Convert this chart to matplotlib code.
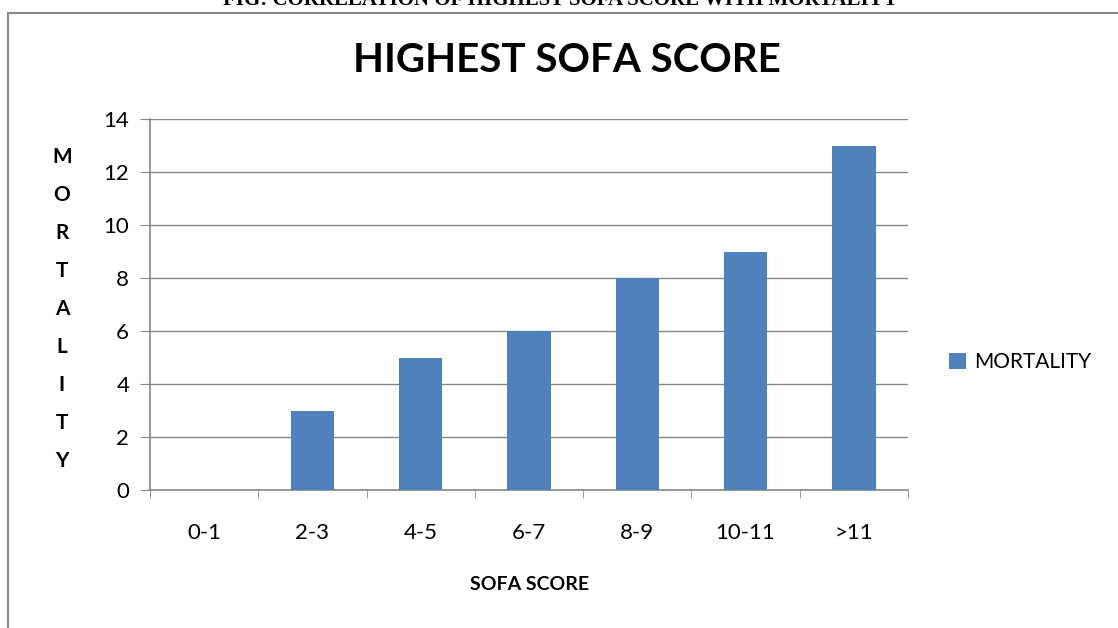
import matplotlib
matplotlib.use("Agg")
import matplotlib.pyplot as plt
from matplotlib.lines import Line2D
import numpy as np

categories = ["0-1", "2-3", "4-5", "6-7", "8-9", "10-11", ">11"]
mortality = [0, 3, 5, 6, 8, 9, 13]
y_ticks = [0, 2, 4, 6, 8, 10, 12, 14]

bar_color = "#4F81BD"
grid_color = "#868686"
font = ["Lato", "DejaVu Sans"]

fig = plt.figure(figsize=(11.18, 6.28), dpi=100)
ax = fig.add_axes([150 / 1118, 1 - 490 / 628, 758 / 1118, 371 / 628])

x = np.arange(len(categories))
ax.bar(x, mortality, width=0.4, color=bar_color, label="MORTALITY", zorder=3)

ax.set_xlim(-0.5, len(categories) - 0.5)
ax.set_ylim(0, 14)
ax.set_yticks(y_ticks)
ax.set_yticklabels([str(v) for v in y_ticks], fontsize=16, family=font)
ax.set_xticks(x)
ax.set_xticklabels(categories, fontsize=16, family=font)
ax.tick_params(axis="x", length=0, pad=24)
ax.set_xticks(np.arange(-0.5, len(categories)), minor=True)
ax.tick_params(axis="x", which="minor", length=6, color=grid_color, direction="out")
ax.tick_params(axis="y", length=7, color=grid_color, direction="out", pad=8)

ax.grid(axis="y", color=grid_color, lw=1, zorder=0)
for side in ["top", "right"]:
    ax.spines[side].set_visible(False)
for side in ["left", "bottom"]:
    ax.spines[side].set_color(grid_color)
    ax.spines[side].set_linewidth(1.2)

fig.text(567 / 1118, 1 - 60 / 628, "HIGHEST SOFA SCORE", ha="center", va="center",
         fontsize=29, fontweight="bold", family=font)
fig.text(530 / 1118, 1 - 585 / 628, "SOFA SCORE", ha="center", va="center",
         fontsize=14, fontweight="bold", family=font)
fig.text(62 / 1118, 1 - 309 / 628, "\n".join("MORTALITY"), ha="center", va="center",
         fontsize=15, fontweight="bold", family=font, linespacing=2.12)

leg = ax.legend(loc="center left", bbox_to_anchor=(1.03, 0.345), frameon=False,
                prop={"family": font, "size": 15}, handlelength=0.8, handleheight=0.8,
                handletextpad=0.4)

# page frame and clipped caption
fig.add_artist(Line2D([8 / 1118, 8 / 1118], [0, 1 - 13 / 628], color="#888888", lw=1.5))
fig.add_artist(Line2D([8 / 1118, 1], [1 - 13 / 628, 1 - 13 / 628], color="#888888", lw=1.5))
fig.text(560 / 1118, 1.0, "FIG: CORRELATION OF HIGHEST SOFA SCORE WITH MORTALITY",
         ha="center", va="center", fontsize=15, fontweight="bold", family="Liberation Serif")

fig.savefig("out.png", dpi=100)
